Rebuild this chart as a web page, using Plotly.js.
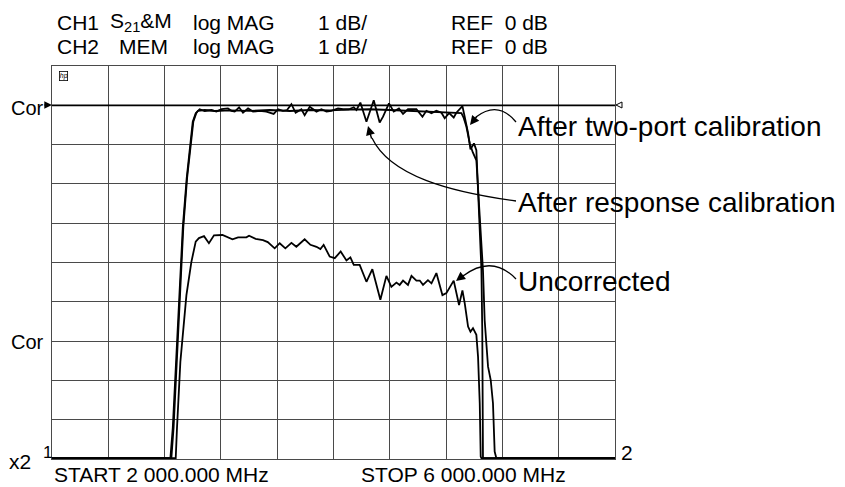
<!DOCTYPE html>
<html>
<head>
<meta charset="utf-8">
<script src="https://cdn.plot.ly/plotly-3.0.1.min.js"></script>
<style>html,body{margin:0;padding:0;background:#fff;}#chart{width:845px;height:487px;}</style>
</head>
<body>
<div id="chart"></div>
<script>
// ---- Data (frequency in MHz, magnitude in dB) ----
const freqUncorr = [2000,2879,2888,2912,2955,2990,3021,3044,3080,3115,3151,3211,3282,3322,3381,3400,3447,3499,3533,3582,3618,3658,3701,3736,3795,3836,3879,3907,3930,3973,4009,4051,4092,4120,4144,4186,4234,4276,4333,4376,4411,4447,4470,4494,4529,4554,4589,4613,4636,4671,4696,4731,4774,4802,4854,4892,4916,4932,4956,4973,4991,5015,5027,5039,5046,5051,6000];
const dbUncorr   = [-8.98,-8.98,-8.21,-6.53,-4.83,-3.99,-3.47,-3.38,-3.33,-3.51,-3.31,-3.30,-3.41,-3.36,-3.36,-3.32,-3.40,-3.43,-3.48,-3.64,-3.51,-3.64,-3.50,-3.60,-3.41,-3.55,-3.60,-3.66,-3.55,-3.85,-3.89,-3.72,-3.95,-3.87,-4.06,-4.06,-4.49,-4.17,-4.95,-4.34,-4.62,-4.51,-4.57,-4.46,-4.57,-4.34,-4.46,-4.46,-4.57,-4.45,-4.53,-4.27,-4.83,-4.78,-4.46,-5.08,-4.71,-5.03,-5.63,-5.76,-5.67,-5.84,-6.40,-7.58,-8.94,-8.98,-8.98];

const freqResp = [2000,2841,2858,2893,2929,2957,2983,3000,3021,3049,3085,3133,3168,3204,3250,3275,3298,3329,3357,3393,3428,3476,3523,3575,3606,3641,3670,3701,3731,3772,3795,3831,3879,3914,3950,3985,4032,4068,4110,4144,4163,4191,4234,4286,4328,4352,4394,4428,4465,4494,4529,4589,4632,4660,4696,4731,4767,4790,4821,4854,4873,4916,4932,4956,4973,4987,4998,5015,5027,5039,5051,5057,5060,5062,6000];
const dbResp   = [-8.98,-8.98,-8.21,-5.67,-3.12,-1.85,-1.01,-0.42,-0.20,-0.10,-0.145,-0.12,-0.16,-0.10,-0.08,-0.14,-0.16,-0.05,-0.19,-0.08,-0.16,-0.14,-0.16,-0.22,-0.10,-0.14,-0.12,0.03,-0.19,-0.10,-0.25,-0.04,-0.16,-0.10,-0.16,-0.14,-0.08,-0.10,-0.10,-0.05,-0.12,0.07,-0.42,0.13,-0.44,-0.29,0.05,-0.16,-0.08,-0.22,-0.10,-0.10,-0.29,-0.14,-0.20,-0.14,-0.19,-0.33,-0.20,-0.31,-0.19,-0.02,-0.29,-0.70,-1.12,-1.04,-0.97,-1.14,-2.16,-3.17,-4.19,-5.72,-8.0,-8.98,-8.98];

const freqTwoPort = [2000,2848,2864,2898,2933,2960,2986,3004,3025,3037,3085,3156,3263,3405,3547,3689,3831,3973,4115,4257,4399,4541,4648,4755,4826,4883,4909,4925,4944,4968,4990,5015,5030,5048,5062,5074,5098,5117,5133,5145,5157,6000];
const dbTwoPort   = [-8.98,-8.98,-8.2,-5.6,-3.1,-1.85,-1.0,-0.42,-0.2,-0.14,-0.12,-0.145,-0.13,-0.14,-0.12,-0.145,-0.12,-0.13,-0.11,-0.10,-0.12,-0.145,-0.16,-0.18,-0.19,-0.20,-0.20,-0.32,-0.54,-0.97,-1.2,-1.4,-2.3,-3.5,-4.2,-5.47,-6.65,-6.99,-7.58,-8.81,-8.98,-8.98];

const xStart = 2000, xStop = 6000, xDiv = 400;
const yTop = 1, yBottom = -9, yDiv = 1, refLevel = 0;

// ---- helpers for decoration placement (pixel -> paper) ----
const L = 52, R = 615, T = 66, B = 459;
const px = x => (x - L) / (R - L);
const py = y => (B - y) / (B - T);

const lineStyle = {color: '#000', width: 1.8};
const traces = [
  {x: freqUncorr, y: dbUncorr, mode: 'lines', line: lineStyle, hoverinfo: 'skip'},
  {x: freqResp, y: dbResp, mode: 'lines', line: lineStyle, hoverinfo: 'skip'},
  {x: freqTwoPort, y: dbTwoPort, mode: 'lines', line: lineStyle, hoverinfo: 'skip'}
];

const font = 'Liberation Sans, Arial, Helvetica, sans-serif';
function txt(text, x, y, size, anchor) {
  return {text: text, xref: 'paper', yref: 'paper', x: px(x), y: py(y),
          xanchor: anchor || 'left', yanchor: 'middle', showarrow: false,
          font: {family: font, size: size, color: '#000'}};
}
function head(x, y, ax, ay) {
  return {text: '', xref: 'paper', yref: 'paper', x: px(x), y: py(y), ax: ax, ay: ay,
          showarrow: true, arrowhead: 2, arrowsize: 1.3, arrowwidth: 1.4, arrowcolor: '#000', standoff: 0};
}
function pth(cmds) {
  return cmds.replace(/(-?\d+(\.\d+)?),(-?\d+(\.\d+)?)/g, (m, a, b, c, d) => px(+a).toFixed(5) + ',' + py(+c).toFixed(5));
}

const annotations = [
  txt('CH1', 55, 22, 21), txt('S<sub>21</sub>&amp;M', 108, 22, 21), txt('log MAG', 191, 22, 21),
  txt('1 dB/', 316, 22, 21), txt('REF  0 dB', 449, 22, 21),
  txt('CH2', 55, 47, 21), txt('MEM', 117, 47, 21), txt('log MAG', 191, 47, 21),
  txt('1 dB/', 316, 47, 21), txt('REF  0 dB', 449, 47, 21),
  txt('START 2 000.000 MHz', 52, 475, 21), txt('STOP 6 000.000 MHz', 359, 475, 21),
  txt('x2', 7, 461, 21), txt('1', 41, 452, 17), txt('2', 619, 452, 21),
  txt('Cor', 9, 108, 20), txt('Cor', 9, 342, 20),
  txt('After two-port calibration', 516, 126, 28),
  txt('After response calibration', 516, 202, 28),
  txt('Uncorrected', 516, 281, 28),
  head(470, 125, 8, -10), head(368, 126, 4, 14), head(456, 281, 9, -7),
  {text: '<i>hp</i>', xref: 'paper', yref: 'paper', x: px(59), y: py(76), xanchor: 'left', yanchor: 'middle',
   showarrow: false, font: {family: font, size: 7, color: '#000'}, bordercolor: '#000', borderwidth: 0.8, borderpad: 0},
  {text: '', xref: 'paper', yref: 'paper', x: 0, y: py(105), ax: -9, ay: 0, showarrow: true,
   arrowhead: 2, arrowsize: 1.1, arrowwidth: 1.4, arrowcolor: '#000', standoff: 0}
];

const shapes = [
  {type: 'line', xref: 'x', yref: 'y', x0: xStart, x1: xStop, y0: refLevel, y1: refLevel, line: {color: '#000', width: 1.8}},
  {type: 'path', xref: 'paper', yref: 'paper', path: pth('M 516,122 Q 498,100 476,117'), line: {color: '#000', width: 1.3}},
  {type: 'path', xref: 'paper', yref: 'paper', path: pth('M 516,201 C 450,192 390,176 372,138'), line: {color: '#000', width: 1.3}},
  {type: 'path', xref: 'paper', yref: 'paper', path: pth('M 516,279 Q 492,254 463,276'), line: {color: '#000', width: 1.3}},
  {type: 'path', xref: 'paper', yref: 'paper', path: pth('M 616,105 L 622,102 L 622,108 Z'), line: {color: '#000', width: 1}, fillcolor: '#fff'}
];

const axisCommon = {showgrid: true, gridcolor: '#4a4a4a', gridwidth: 1, zeroline: false,
  showticklabels: false, ticks: '', showline: true, mirror: true, linecolor: '#4a4a4a', linewidth: 1.2, fixedrange: true};

const layout = {
  width: 845, height: 487, margin: {l: L, r: 845 - R, t: T, b: 487 - B},
  paper_bgcolor: '#fff', plot_bgcolor: '#fff', showlegend: false,
  xaxis: Object.assign({range: [xStart, xStop], dtick: xDiv, tick0: xStart}, axisCommon),
  yaxis: Object.assign({range: [yBottom, yTop], dtick: yDiv, tick0: yBottom}, axisCommon),
  annotations: annotations, shapes: shapes
};

Plotly.newPlot('chart', traces, layout, {displayModeBar: false, staticPlot: true});
</script>
</body>
</html>
